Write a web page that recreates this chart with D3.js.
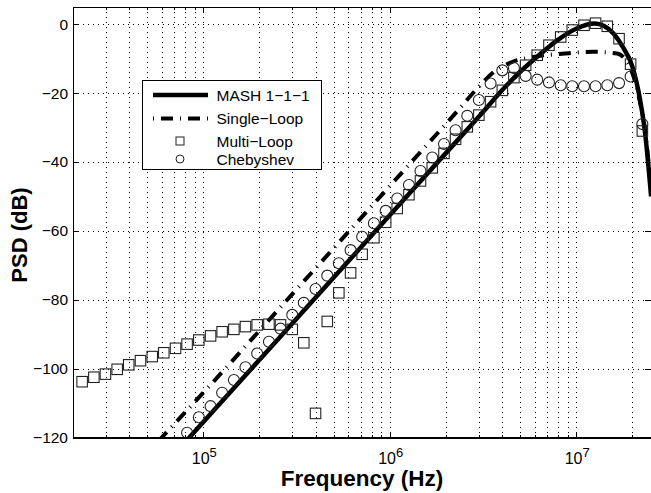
<!DOCTYPE html>
<html>
<head>
<meta charset="utf-8">
<script src="https://cdn.jsdelivr.net/npm/d3@7"></script>
<style>
  body { margin: 0; background: #fff; }
  svg text { font-family: "Liberation Sans", Arial, Helvetica, sans-serif; fill: #000; }
</style>
</head>
<body>
<div id="chart"></div>
<script>
const seriesNames = ['MASH 1\u22121\u22121', 'Single\u2212Loop', 'Multi\u2212Loop', 'Chebyshev'];
const yTicks = [-120, -100, -80, -60, -40, -20, 0];
const xMajorTicks = [1e5, 1e6, 1e7];

// MASH 1-1-1 (solid line): log10(frequency) / PSD dB
const mashLogF = [4.90, 5.5, 6.0, 6.3, 6.5, 6.6, 6.7, 6.8, 6.9, 7.0, 7.1, 7.15, 7.2, 7.25, 7.302, 7.343, 7.370, 7.388, 7.402];
const mashDb = [-121.5, -85.5, -55.5, -37.5, -25.5, -19.3, -13.8, -9.0, -4.6, -1.3, 0.2, -0.5, -2.7, -6.6, -12.4, -22, -31.7, -41.4, -50];

// Single-Loop (dash-dot line)
const singleLogF = [4.76, 5.0, 5.5, 6.0, 6.2, 6.36, 6.46, 6.56, 6.66, 6.77, 6.94, 7.09, 7.22, 7.26, 7.30, 7.34, 7.37, 7.40];
const singleDb = [-121, -107, -77, -47, -35, -25.4, -19.2, -13.8, -10.9, -9.5, -8.5, -8.0, -8.5, -10, -14, -22, -31, -47];

// marker frequencies (log10) shared by Multi-Loop and Chebyshev
const markerLogF = [4.350, 4.413, 4.475, 4.538, 4.600, 4.663, 4.726, 4.788, 4.851, 4.913,
  4.976, 5.039, 5.101, 5.164, 5.226, 5.289, 5.352, 5.414, 5.477, 5.539,
  5.602, 5.665, 5.727, 5.790, 5.852, 5.915, 5.978, 6.040, 6.103, 6.165,
  6.228, 6.291, 6.353, 6.416, 6.478, 6.541, 6.604, 6.666, 6.729, 6.791,
  6.854, 6.917, 6.979, 7.042, 7.104, 7.167, 7.230, 7.292, 7.355];

const multiDb = [-103.8, -102.5, -101.6, -100.2, -98.9, -97.7, -96.5, -95.4, -94.1, -92.9,
  -91.7, -90.5, -89.3, -88.6, -87.8, -87.3, -87.1, -87.3, -88.6, -92.5,
  -113.0, -86.3, -78.0, -72.2, -66.8, -62.0, -57.5, -53.5, -49.5, -45.5,
  -41.7, -37.5, -33.4, -29.8, -26.4, -22.5, -19.2, -15.5, -11.9, -9.0,
  -6.1, -3.7, -1.7, -0.3, 0.3, -0.6, -4.2, -11.6, -31.0];

const chebyDb = [null, null, null, null, null, null, null, null, null, -118.6,
  -114.1, -110.9, -107.0, -103.3, -99.6, -95.6, -92.2, -88.4, -84.4, -80.9,
  -76.9, -73.0, -69.4, -65.6, -61.7, -57.8, -54.2, -50.6, -46.7, -42.6,
  -38.7, -34.8, -30.8, -26.6, -22.0, -17.2, -13.4, -12.7, -15.0, -16.1,
  -16.9, -17.7, -18.0, -18.0, -18.0, -17.7, -17.1, -15.2, -29.0];

const width = 651, height = 493;
const margin = { left: 73, top: 7, right: 0, bottom: 55.5 };

const svg = d3.select('#chart').append('svg')
  .attr('width', width).attr('height', height);

const x = d3.scaleLog()
  .domain([2e4, 2.52e7])
  .range([margin.left, width - margin.right]);

const y = d3.scaleLinear()
  .domain([-120, 5])
  .range([height - margin.bottom, margin.top]);

const x0 = x.range()[0], x1 = x.range()[1];
const y0 = y.range()[0], y1 = y.range()[1];

// all log ticks inside the domain
const logTicks = [];
[4, 5, 6, 7].forEach(e => {
  for (let m = 1; m <= 9; m++) {
    const v = m * Math.pow(10, e);
    if (v >= 2e4 && v <= 2.52e7) logTicks.push(v);
  }
});

// grid
const grid = svg.append('g')
  .attr('stroke', '#000')
  .attr('stroke-width', 1)
  .attr('stroke-dasharray', '1,4')
  .attr('shape-rendering', 'crispEdges');

grid.selectAll('.vg').data(logTicks.filter(v => v > 2e4)).join('line')
  .attr('x1', d => Math.round(x(d)) + 0.5).attr('x2', d => Math.round(x(d)) + 0.5)
  .attr('y1', y0).attr('y2', y1);

grid.selectAll('.hg').data(yTicks.filter(v => v > -120)).join('line')
  .attr('y1', d => Math.round(y(d)) + 0.5).attr('y2', d => Math.round(y(d)) + 0.5)
  .attr('x1', x0).attr('x2', x1);

// clip
svg.append('clipPath').attr('id', 'plot-clip')
  .append('rect').attr('x', x0).attr('y', y1).attr('width', x1 - x0).attr('height', y0 - y1);

const plot = svg.append('g').attr('clip-path', 'url(#plot-clip)');

const line = d3.line()
  .x(d => x(Math.pow(10, d[0])))
  .y(d => y(d[1]))
  .curve(d3.curveMonotoneX);

const mashData = mashLogF.map((f, i) => [f, mashDb[i]]);
const singleData = singleLogF.map((f, i) => [f, singleDb[i]]);

plot.append('path')
  .datum(mashData)
  .attr('fill', 'none')
  .attr('stroke', '#000')
  .attr('stroke-width', 4.5)
  .attr('d', line);

plot.append('path')
  .datum(singleData)
  .attr('fill', 'none')
  .attr('stroke', '#000')
  .attr('stroke-width', 4)
  .attr('stroke-dasharray', '12,7,1,7')
  .attr('d', line);

const sq = 10.5;
plot.selectAll('.sq')
  .data(markerLogF.map((f, i) => [f, multiDb[i]]))
  .join('rect')
  .attr('x', d => x(Math.pow(10, d[0])) - sq / 2)
  .attr('y', d => y(d[1]) - sq / 2)
  .attr('width', sq).attr('height', sq)
  .attr('fill', 'none')
  .attr('stroke', '#222')
  .attr('stroke-width', 1.1);

plot.selectAll('.ci')
  .data(markerLogF.map((f, i) => [f, chebyDb[i]]).filter(d => d[1] !== null))
  .join('circle')
  .attr('cx', d => x(Math.pow(10, d[0])))
  .attr('cy', d => y(d[1]))
  .attr('r', 5.5)
  .attr('fill', 'none')
  .attr('stroke', '#222')
  .attr('stroke-width', 1.1);

// axes (ticks pointing inward)
const axes = svg.append('g').attr('shape-rendering', 'crispEdges');

axes.append('g')
  .attr('transform', `translate(0,${y0})`)
  .call(d3.axisBottom(x).tickValues(logTicks).tickSize(-3).tickFormat(''))
  .call(g => g.select('.domain').attr('stroke-width', 1.2));
axes.append('g')
  .attr('transform', `translate(0,${y0})`)
  .call(d3.axisBottom(x).tickValues(xMajorTicks).tickSize(-6).tickFormat(''))
  .call(g => g.select('.domain').remove());

axes.append('g')
  .attr('transform', `translate(0,${y1})`)
  .call(d3.axisTop(x).tickValues(logTicks).tickSize(-3).tickFormat(''));
axes.append('g')
  .attr('transform', `translate(0,${y1})`)
  .call(d3.axisTop(x).tickValues(xMajorTicks).tickSize(-6).tickFormat(''))
  .call(g => g.select('.domain').remove());

axes.append('g')
  .attr('transform', `translate(${x0},0)`)
  .call(d3.axisLeft(y).tickValues(yTicks).tickSize(-6).tickPadding(5))
  .call(g => g.selectAll('.tick text')
    .attr('font-size', 15.5)
    .attr('font-family', '"Liberation Sans", Arial, sans-serif'));

axes.append('g')
  .attr('transform', `translate(${x1 - 0.5},0)`)
  .call(d3.axisRight(y).tickValues(yTicks).tickSize(-6).tickFormat(''));

// decade labels 10^n
const xl = svg.append('g');
xMajorTicks.forEach(v => {
  const t = xl.append('text')
    .attr('x', x(v) + 1)
    .attr('y', y0 + 26)
    .attr('text-anchor', 'middle')
    .attr('font-size', 16);
  t.append('tspan').text('10');
  t.append('tspan').attr('dy', -7).attr('font-size', 13).text(Math.round(Math.log10(v)));
});

// axis titles
svg.append('text')
  .attr('x', 362).attr('y', 486)
  .attr('text-anchor', 'middle')
  .attr('font-size', 22.5)
  .attr('font-weight', 'bold')
  .text('Frequency (Hz)');

svg.append('text')
  .attr('transform', 'translate(27,235) rotate(-90)')
  .attr('text-anchor', 'middle')
  .attr('font-size', 22)
  .attr('font-weight', 'bold')
  .text('PSD (dB)');

// legend
const lg = svg.append('g');
lg.append('rect')
  .attr('x', 142.5).attr('y', 80.5).attr('width', 179).attr('height', 89)
  .attr('fill', '#fff').attr('stroke', '#000').attr('stroke-width', 1);

const rowY = [95, 118.5, 141, 159];
lg.append('line').attr('x1', 153).attr('x2', 208).attr('y1', rowY[0]).attr('y2', rowY[0])
  .attr('stroke', '#000').attr('stroke-width', 4.5);
lg.append('line').attr('x1', 153).attr('x2', 208).attr('y1', rowY[1]).attr('y2', rowY[1])
  .attr('stroke', '#000').attr('stroke-width', 4).attr('stroke-dasharray', '1,7,12,7');
lg.append('rect').attr('x', 176).attr('y', rowY[2] - 4).attr('width', 8).attr('height', 8)
  .attr('fill', 'none').attr('stroke', '#222');
lg.append('circle').attr('cx', 180).attr('cy', rowY[3]).attr('r', 4)
  .attr('fill', 'none').attr('stroke', '#222');

lg.selectAll('.lt').data(seriesNames).join('text')
  .attr('x', 216.5)
  .attr('y', (d, i) => rowY[i])
  .attr('dy', '0.36em')
  .attr('font-size', 15.5)
  .text(d => d);
</script>
</body>
</html>
